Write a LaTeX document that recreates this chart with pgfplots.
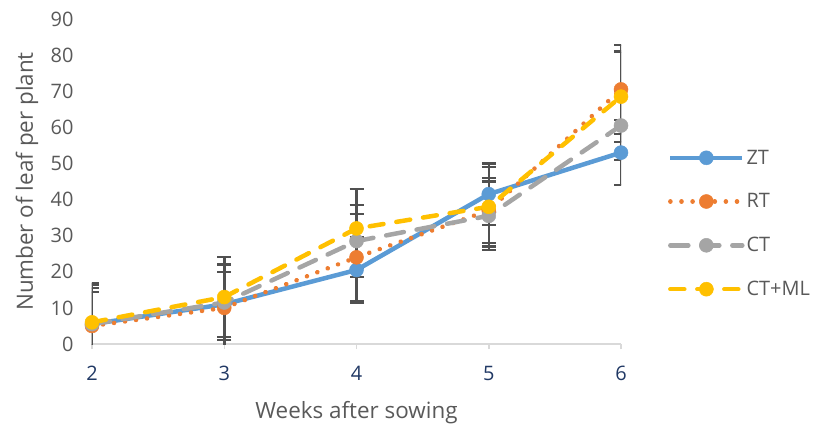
\documentclass[border=0pt]{standalone}
\usepackage{fontspec}
\setmainfont{Open Sans}
\usepackage{pgfplots}
\pgfplotsset{compat=1.18}
\definecolor{cZT}{HTML}{5B9BD5}
\definecolor{cRT}{HTML}{ED7D31}
\definecolor{cCT}{HTML}{A5A5A5}
\definecolor{cCTML}{HTML}{FFC000}
\definecolor{txt}{HTML}{595959}
\definecolor{xtick}{HTML}{203864}
\definecolor{errc}{HTML}{505050}
\pgfplotsset{
  every error bar/.append style={line width=2.5bp},
  errplot/.style={forget plot, only marks, mark=none, errc, line width=2.5bp,
    error bars/.cd, y dir=both, y explicit,
    error bar style={errc, line width=2.5bp, solid},
    error mark options={rotate=90, mark size=7bp, line width=2.2bp, errc, solid}},
}
\begin{document}
\begin{tikzpicture}
\useasboundingbox (-92bp,-89bp) rectangle (723bp,344bp);
\begin{axis}[
  at={(0,0)}, anchor=south west,
  scale only axis, width=529bp, height=325bp,
  xmin=2, xmax=6, ymin=0, ymax=90,
  xtick={2,3,4,5,6}, ytick={0,10,...,90},
  /pgf/number format/assume math mode=true,
  axis x line*=bottom, axis y line*=left,
  x axis line style={-, draw=gray!30, line width=1.5bp},
  y axis line style={draw=none},
  ytick style={draw=none},
  xtick style={draw=gray!30, line width=1.5bp},
  tick align=outside, major tick length=5bp,
  font=\fontsize{20}{24}\selectfont,
  yticklabel style={text=txt, xshift=-10bp},
  xticklabel style={text=xtick, yshift=-14bp},
  xlabel={Weeks after sowing}, ylabel={Number of leaf per plant},
  xlabel style={text=txt, font=\fontsize{22.5}{26}\selectfont, at={(axis description cs:0.5,-0.212)}, anchor=center},
  ylabel style={text=txt, font=\fontsize{22.5}{26}\selectfont, at={(axis description cs:-0.123,0.5)}, anchor=center},
  legend style={at={(axis description cs:1.083,0.61)}, anchor=north west, draw=none, fill=none,
    text=txt, row sep=24bp, font=\fontsize{20}{24}\selectfont},
  legend cell align=left,
  legend image code/.code={\draw[#1, mark repeat=2, mark phase=2] plot coordinates {(0bp,0bp) (36bp,0bp) (72bp,0bp)};},
]
\addplot[errplot] table[x=x, y=y, y error=e] {
x y e
2 5.5 11
3 11 9
4 20.5 9
5 41.5 8.5
6 53 9
};
\addplot[errplot] table[x=x, y=y, y error=e] {
x y e
2 5 12
3 10 12
4 24 12
5 37 9
6 70.5 12.3
};
\addplot[errplot] table[x=x, y=y, y error=e] {
x y e
2 5.5 9
3 11.5 10.5
4 28.5 10
5 35.5 9.5
6 60.5 9.5
};
\addplot[errplot] table[x=x, y=y, y error=e] {
x y e
2 6 9.5
3 13 11
4 32 11
5 38 11
6 68.5 12.5
};
\addplot[cZT, line width=4.5bp, solid, mark=*, mark size=7bp, mark options={solid, fill=cZT, draw=cZT, line width=0.5bp}] coordinates {(2,5.5) (3,11) (4,20.5) (5,41.5) (6,53)};
\addlegendentry{ZT}
\addplot[cRT, line width=4.5bp, line cap=round, dash pattern=on 0.1bp off 11bp, mark=*, mark size=7bp, mark options={solid, fill=cRT, draw=cRT, line width=0.5bp}] coordinates {(2,5) (3,10) (4,24) (5,37) (6,70.5)};
\addlegendentry{RT}
\addplot[cCT, line width=4.5bp, line cap=round, dash pattern=on 18bp off 13bp, mark=*, mark size=7bp, mark options={solid, fill=cCT, draw=cCT, line width=0.5bp}] coordinates {(2,5.5) (3,11.5) (4,28.5) (5,35.5) (6,60.5)};
\addlegendentry{CT}
\addplot[cCTML, line width=4.5bp, line cap=round, dash pattern=on 14bp off 13bp, mark=*, mark size=7bp, mark options={solid, fill=cCTML, draw=cCTML, line width=0.5bp}] coordinates {(2,6) (3,13) (4,32) (5,38) (6,68.5)};
\addlegendentry{CT+ML}
\end{axis}
\end{tikzpicture}
\end{document}
